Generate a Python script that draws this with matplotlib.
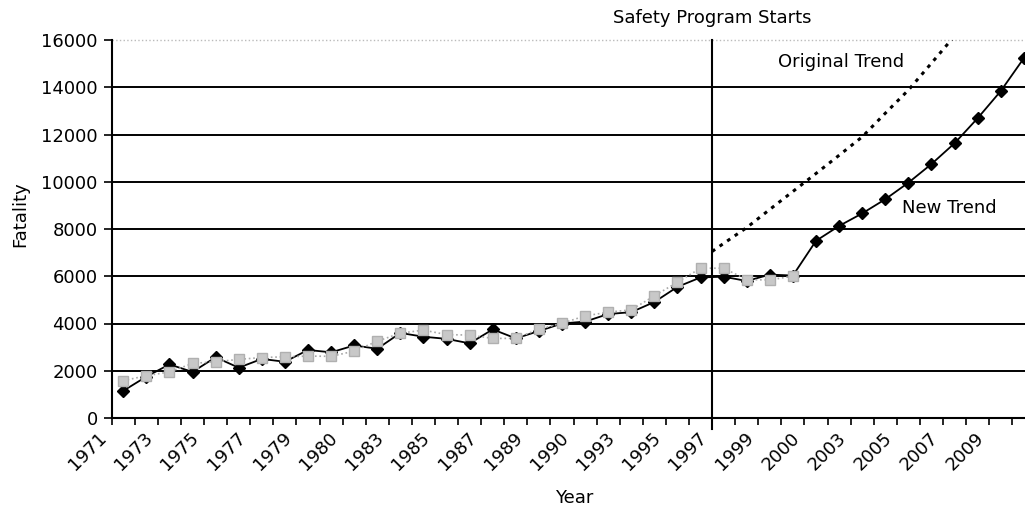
import matplotlib
matplotlib.use("Agg")
import matplotlib.pyplot as plt
from matplotlib.transforms import ScaledTranslation

plt.rcParams["font.family"] = ["DejaVu Sans"]
plt.rcParams["font.size"] = 13

# observed fatalities (black diamonds), 1971-2010
years = list(range(1971, 2011))
fatality = [1150, 1750, 2270, 1950, 2570, 2130, 2500, 2380, 2880, 2780,
            3070, 2930, 3600, 3440, 3350, 3160, 3750, 3370, 3680, 4000,
            4080, 4400, 4480, 4910, 5550, 5950, 5980, 5800, 6070, 6030,
            7500, 8130, 8660, 9260, 9960, 10750, 11630, 12690, 13840, 15230]

# gray square series, 1971-2000
gray_years = list(range(1971, 2001))
gray_vals = [1580, 1790, 1950, 2310, 2380, 2480, 2560, 2590, 2620, 2610,
             2830, 3250, 3590, 3720, 3530, 3510, 3370, 3370, 3760, 4010,
             4320, 4480, 4580, 5170, 5750, 6340, 6340, 5860, 5840, 6010]

# original trend (dotted) after the program start
trend_years = [1996.5, 1997, 1998, 1999, 2000, 2001, 2002, 2003, 2004, 2005, 2006, 2007]
trend_vals = [7050, 7390, 8060, 8830, 9590, 10350, 11120, 11900, 12900, 13880, 15020, 16170]

program_start = 1996.5

tick_years = list(range(1971, 2010, 2))
tick_labels = ["1971", "1973", "1975", "1977", "1979", "1980", "1983", "1985",
               "1987", "1989", "1990", "1993", "1995", "1997", "1999", "2000",
               "2003", "2005", "2007", "2009"]

fig = plt.figure(figsize=(10.25, 5.08), dpi=100)
ax = fig.add_axes([111.7 / 1025, 1 - 418 / 508, 1 - 111.7 / 1025, (418 - 40) / 508])

for v in range(2000, 16000, 2000):
    ax.axhline(v, color="black", lw=1.4, zorder=1)
ax.axhline(16000, color="#bbbbbb", lw=1.0, ls=":", zorder=1, clip_on=False)

ax.plot(years, fatality, color="black", lw=1.3, marker="D", ms=6.5,
        mfc="black", mec="black", zorder=3, clip_on=False)
ax.plot(gray_years, gray_vals, color="#a8a8a8", lw=1.2, ls=":", marker="s", ms=6.5,
        mfc="#c8c8c8", mec="#b0b0b0", zorder=4)
ax.plot(trend_years, trend_vals, color="black", lw=2.2, ls=(0, (1.2, 1.8)), zorder=3)

ax.plot([program_start, program_start], [-450, 16000], color="black", lw=1.5,
        zorder=5, clip_on=False)

ax.text(program_start, 16950, "Safety Program Starts", ha="center", va="center")
ax.text(1999.35, 15070, "Original Trend", ha="left", va="center")
ax.text(2004.72, 8880, "New Trend", ha="left", va="center")

ax.set_xlim(1970.5, 2010.05)
ax.set_ylim(0, 16000)
ax.set_yticks(range(0, 16001, 2000))

ax.set_xticks([y - 0.5 for y in years])
ax.set_xticklabels([])
ax.set_xticks(tick_years, minor=True)
ax.set_xticklabels(tick_labels, minor=True, rotation=45, ha="right", va="top")
ax.tick_params(axis="x", which="major", direction="out", length=5, width=1.2)
ax.tick_params(axis="x", which="minor", length=0, pad=8)
ax.tick_params(axis="y", direction="out", length=6, width=1.2, pad=4)

shift = ScaledTranslation(-13 / 100, 0, fig.dpi_scale_trans)
for lab in ax.get_xticklabels(minor=True):
    lab.set_transform(lab.get_transform() + shift)

for side in ["top", "right"]:
    ax.spines[side].set_visible(False)
ax.spines["left"].set_linewidth(1.5)
ax.spines["bottom"].set_linewidth(1.5)

fig.text(20 / 1025, 1 - 214 / 508, "Fatality", rotation=90, ha="center", va="center")
fig.text(574 / 1025, 1 - 498 / 508, "Year", ha="center", va="center")

fig.savefig("out.png", dpi=100)
